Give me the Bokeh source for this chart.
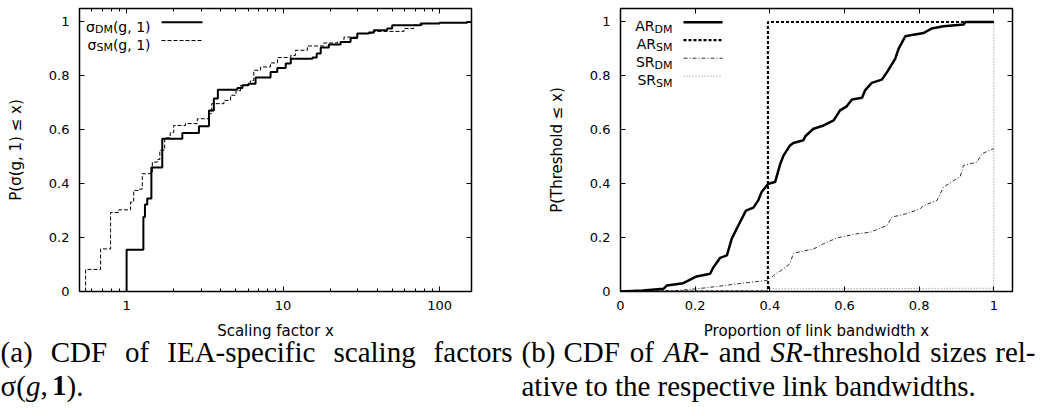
from bokeh.plotting import figure
from bokeh.layouts import row, column
from bokeh.models import (FixedTicker, LogAxis, LinearAxis, Label, Arrow, Range1d)
from bokeh.embed import file_html
from bokeh.resources import INLINE

# ---------------- data ----------------
# (a) CDF of scaling factors (step CDFs, log x)
sigma_dm_x = [1.0, 1.0, 1.0, 1.28, 1.31, 1.355, 1.44, 1.69, 2.27, 2.90, 3.36, 3.61, 3.83,
              5.1, 5.5, 6.0, 6.67, 8.32, 9.18, 10.4, 11.2, 15.4, 16.4, 17.4, 19.6, 23.3,
              27.0, 29.8, 35.3, 38.0, 46.3, 49.8, 75.6, 100.0, 150.0, 160.0]
sigma_dm_y = [0.0, 0.07, 0.155, 0.276, 0.323, 0.345, 0.46, 0.567, 0.588, 0.613, 0.672, 0.716, 0.749,
              0.755, 0.765, 0.771, 0.794, 0.814, 0.829, 0.846, 0.864, 0.868, 0.883, 0.905, 0.916, 0.926,
              0.941, 0.957, 0.961, 0.969, 0.976, 0.988, 0.994, 0.997, 1.0, 1.0]
sigma_sm_x = [0.547, 0.547, 0.547, 0.682, 0.79, 0.79, 0.89, 1.06, 1.11, 1.2, 1.26, 1.41, 1.46,
              1.57, 1.63, 1.75, 1.9, 2.0, 2.38, 2.83, 3.35, 3.5, 4.19, 4.62, 5.0, 5.35, 6.2,
              6.5, 7.18, 8.3, 9.2, 11.2, 12.0, 14.3, 18.2, 22.2, 24.5, 29.8, 38.0, 59.2, 68.5,
              77.6, 85.0]
sigma_sm_y = [0.0, 0.04, 0.082, 0.158, 0.226, 0.293, 0.303, 0.332, 0.375, 0.38, 0.437, 0.44, 0.48,
              0.49, 0.524, 0.57, 0.59, 0.616, 0.623, 0.641, 0.66, 0.697, 0.709, 0.728, 0.745, 0.765, 0.783,
              0.821, 0.833, 0.848, 0.868, 0.876, 0.895, 0.911, 0.922, 0.926, 0.944, 0.957, 0.965, 0.976, 0.988,
              0.994, 1.0]

# (b) CDF of threshold sizes
ar_dm_x = [0.0, 0.06, 0.115, 0.124, 0.168, 0.204, 0.24, 0.249, 0.267, 0.285, 0.298, 0.32, 0.336,
           0.356, 0.369, 0.378, 0.396, 0.414, 0.428, 0.437, 0.454, 0.463, 0.49, 0.495, 0.517, 0.544,
           0.571, 0.588, 0.606, 0.62, 0.647, 0.655, 0.673, 0.7, 0.714, 0.736, 0.745, 0.763, 0.785,
           0.812, 0.834, 0.865, 0.919, 0.924, 1.0]
ar_dm_y = [0.0, 0.004, 0.01, 0.022, 0.031, 0.056, 0.066, 0.09, 0.125, 0.134, 0.196, 0.257, 0.3,
           0.311, 0.338, 0.369, 0.4, 0.406, 0.474, 0.505, 0.542, 0.551, 0.561, 0.576, 0.604, 0.616,
           0.635, 0.672, 0.687, 0.712, 0.719, 0.746, 0.774, 0.786, 0.814, 0.864, 0.901, 0.947, 0.953,
           0.959, 0.976, 0.984, 0.991, 1.0, 1.0]
ar_sm_x = [0.0, 0.395, 0.395, 1.0]
ar_sm_y = [0.0, 0.0, 1.0, 1.0]
sr_dm_x = [0.0, 0.15, 0.231, 0.316, 0.392, 0.41, 0.437, 0.454, 0.463, 0.517, 0.544, 0.58, 0.633,
           0.669, 0.714, 0.727, 0.767, 0.803, 0.812, 0.848, 0.865, 0.91, 0.919, 0.955, 0.968, 1.0]
sr_dm_y = [0.0, 0.003, 0.014, 0.029, 0.041, 0.059, 0.085, 0.103, 0.142, 0.158, 0.177, 0.199, 0.214,
           0.22, 0.245, 0.276, 0.289, 0.307, 0.319, 0.338, 0.387, 0.427, 0.468, 0.48, 0.511, 0.53]
sr_sm_x = [0.0, 0.39, 0.395, 0.995, 1.0, 1.0]
sr_sm_y = [0.0, 0.003, 0.01, 0.012, 0.012, 1.0]

# ticks
left_x_ticks = [1, 10, 100]
left_x_labels = ["1", "10", "100"]
left_x_minor = [m * 10.0 ** e for e in (-1, 0, 1, 2) for m in range(2, 10)]
y_ticks = [0, 0.2, 0.4, 0.6, 0.8, 1]
y_labels = ["0", "0.2", "0.4", "0.6", "0.8", "1"]
right_x_ticks = [0, 0.2, 0.4, 0.6, 0.8, 1]
right_x_labels = ["0", "0.2", "0.4", "0.6", "0.8", "1"]

FONT = "DejaVu Sans"
SERIF = "Liberation Serif"
FRAME_BOTTOM = 291  # page y of frame bottom
TOP_H = 318         # height of the chart row
CAP_H = 98          # height of the strip holding x titles and captions


def style_axis(ax, label_standoff, axis_standoff):
    ax.axis_line_color = None
    ax.major_tick_in = 5
    ax.major_tick_out = 0
    ax.minor_tick_in = 3
    ax.minor_tick_out = 0
    ax.major_tick_line_color = "black"
    ax.minor_tick_line_color = "black"
    ax.major_tick_line_width = 1
    ax.major_label_text_font = FONT
    ax.major_label_text_font_size = "13px"
    ax.major_label_text_color = "black"
    ax.major_label_standoff = label_standoff
    ax.axis_label_text_font = FONT
    ax.axis_label_text_font_size = "15px"
    ax.axis_label_text_font_style = "normal"
    ax.axis_label_text_color = "black"
    ax.axis_label_standoff = axis_standoff


def mirror(p, kind, ticker, loc, place):
    ax = kind(ticker=ticker, fixed_location=loc)
    ax.axis_line_color = None
    ax.major_tick_in = 0
    ax.major_tick_out = 5
    ax.minor_tick_in = 0
    ax.minor_tick_out = 3
    ax.major_tick_line_color = "black"
    ax.minor_tick_line_color = "black"
    ax.major_label_text_font_size = "0px"
    ax.major_label_overrides = {t: "" for t in ticker.ticks}
    p.add_layout(ax, place)


def lab(p, x, y, text, size="14px", font=FONT, align="left", style="normal"):
    p.add_layout(Label(x=x, y=y, x_units="screen", y_units="screen", text=text,
                       text_font=font, text_font_size=size, text_align=align,
                       text_baseline="alphabetic", text_font_style=style,
                       text_color="black"))


def sample(p, x0, x1, y, **kw):
    p.add_layout(Arrow(x_start=x0, y_start=y, x_end=x1, y_end=y, start_units="screen",
                       end_units="screen", start=None, end=None, **kw))


# ---------------- panel (a) ----------------
p1 = figure(width=520, height=TOP_H, x_axis_type="log",
            x_range=Range1d(0.5, 160), y_range=Range1d(0, 1.05),
            output_backend="svg", toolbar_location=None,
            min_border_left=79, min_border_right=49, min_border_top=8,
            min_border_bottom=TOP_H - FRAME_BOTTOM)
p1.grid.visible = False
p1.outline_line_color = "black"
p1.outline_line_width = 1.5
p1.outline_line_alpha = 1

p1.xaxis.ticker = FixedTicker(ticks=left_x_ticks, minor_ticks=left_x_minor)
p1.xaxis.major_label_overrides = dict(zip(left_x_ticks, left_x_labels))
p1.yaxis.ticker = FixedTicker(ticks=y_ticks)
p1.yaxis.major_label_overrides = dict(zip(y_ticks, y_labels))
p1.yaxis.axis_label = "P(σ(g, 1) ≤ x)"
for ax in p1.xaxis:
    style_axis(ax, 9, 4)
for ax in p1.yaxis:
    style_axis(ax, 10, 21)

mirror(p1, LogAxis, FixedTicker(ticks=left_x_ticks, minor_ticks=left_x_minor), 1.05, "below")
mirror(p1, LinearAxis, FixedTicker(ticks=y_ticks), 160, "left")

p1.step(sigma_dm_x, sigma_dm_y, mode="after", line_color="black", line_width=2)
p1.step(sigma_sm_x, sigma_sm_y, mode="after", line_color="black", line_width=1, line_dash="4 2")

# legend (a): frame left at page x 79
L1 = 79
lab(p1, 150 - L1, FRAME_BOTTOM - 26, "(g, 1)", align="right")
lab(p1, 112.4 - L1, FRAME_BOTTOM - 28.5, "DM", size="11px", align="right")
lab(p1, 94.4 - L1, FRAME_BOTTOM - 26, "σ", align="right")
sample(p1, 161 - L1, 202 - L1, FRAME_BOTTOM - 21.7, line_color="black", line_width=2)
lab(p1, 150 - L1, FRAME_BOTTOM - 44, "(g, 1)", align="right")
lab(p1, 112.4 - L1, FRAME_BOTTOM - 46.5, "SM", size="11px", align="right")
lab(p1, 95.9 - L1, FRAME_BOTTOM - 44, "σ", align="right")
sample(p1, 161 - L1, 202 - L1, FRAME_BOTTOM - 40, line_color="black", line_width=1, line_dash="4 2")

# ---------------- panel (b) ----------------
p2 = figure(width=525, height=TOP_H,
            x_range=Range1d(0, 1.05), y_range=Range1d(0, 1.05),
            output_backend="svg", toolbar_location=None,
            min_border_left=100, min_border_right=33, min_border_top=8,
            min_border_bottom=TOP_H - FRAME_BOTTOM)
p2.grid.visible = False
p2.outline_line_color = "black"
p2.outline_line_width = 1.5
p2.outline_line_alpha = 1

p2.xaxis.ticker = FixedTicker(ticks=right_x_ticks)
p2.xaxis.major_label_overrides = dict(zip(right_x_ticks, right_x_labels))
p2.yaxis.ticker = FixedTicker(ticks=y_ticks)
p2.yaxis.major_label_overrides = dict(zip(y_ticks, y_labels))
p2.yaxis.axis_label = "P(Threshold ≤ x)"
for ax in p2.xaxis:
    style_axis(ax, 9, 4)
for ax in p2.yaxis:
    style_axis(ax, 10, 21)

mirror(p2, LinearAxis, FixedTicker(ticks=right_x_ticks), 1.05, "below")
mirror(p2, LinearAxis, FixedTicker(ticks=y_ticks), 1.05, "left")

p2.line(sr_sm_x, sr_sm_y, line_color="#888888", line_width=1, line_dash="1 2")
p2.line(sr_dm_x, sr_dm_y, line_color="#333333", line_width=1, line_dash="4 2 1 2")
p2.line(ar_sm_x, ar_sm_y, line_color="black", line_width=2.2, line_dash="3 2")
p2.line(ar_dm_x, ar_dm_y, line_color="black", line_width=2.5)

L2 = 620
legend2 = [("AR", "DM", dict(line_color="black", line_width=2.5)),
           ("AR", "SM", dict(line_color="black", line_width=2.2, line_dash="3 2")),
           ("SR", "DM", dict(line_color="#333333", line_width=1, line_dash="4 2 1 2")),
           ("SR", "SM", dict(line_color="#888888", line_width=1, line_dash="1 2"))]
for i, (main, sub, kw) in enumerate(legend2):
    base = 25 + 18 * i
    subw = 18.0 if sub == "DM" else 16.5
    lab(p2, 672 - L2, FRAME_BOTTOM - base - 3.5, sub, size="11px", align="right")
    lab(p2, 672 - subw - L2, FRAME_BOTTOM - base, main, align="right")
    sample(p2, 683 - L2, 722 - L2, FRAME_BOTTOM - (base - 3.3), **kw)

# ---------------- strip: x-axis titles + captions ----------------
pc = figure(width=1045, height=CAP_H, x_range=Range1d(0, 1045), y_range=Range1d(0, CAP_H),
            output_backend="svg", toolbar_location=None, min_border=0,
            x_axis_location=None, y_axis_location=None)
pc.grid.visible = False
pc.outline_line_color = None


def strip_text(x, page_baseline, text, size, font, style="normal", align="left"):
    lab(pc, x, TOP_H + CAP_H - page_baseline, text, size=size, font=font,
        style=style, align=align)


# x-axis titles (centred under each frame)
strip_text(275, 330, "Scaling factor x", "15px", FONT, align="center")
strip_text(816, 330, "Proportion of link bandwidth x", "15px", FONT, align="center")


def cap(x, page_baseline, text, style="normal", align="left"):
    strip_text(x, page_baseline, text, "29px", SERIF, style=style, align=align)


B1, B2 = 351, 385
for w, px in [("(a)", 0), ("CDF", 50.2), ("of", 124.6), ("IEA-specific", 166.8), ("scaling", 333)]:
    cap(px, B1, w)
cap(512, B1, "factors", align="right")
cap(0, B2, "σ(")
cap(25.5, B2, "g", style="italic")
cap(40, B2, ",")
cap(51.5, B2, "1", style="bold")
cap(66, B2, ").")

for w, px, st in [("(b)", 521, "normal"), ("CDF", 563, "normal"), ("of", 629.3, "normal"),
                  ("AR", 663.3, "italic"), ("-", 698.7, "normal"), ("and", 718.3, "normal"),
                  ("SR", 770.1, "italic"), ("-threshold", 802.3, "normal"), ("sizes", 929.8, "normal")]:
    cap(px, B1, w, style=st)
cap(1035, B1, "rel-", align="right")
cap(521, B2, "ative to the respective link bandwidths.")

layout = column(row(p1, p2), pc)
open("out.html", "w").write(file_html(layout, INLINE))
